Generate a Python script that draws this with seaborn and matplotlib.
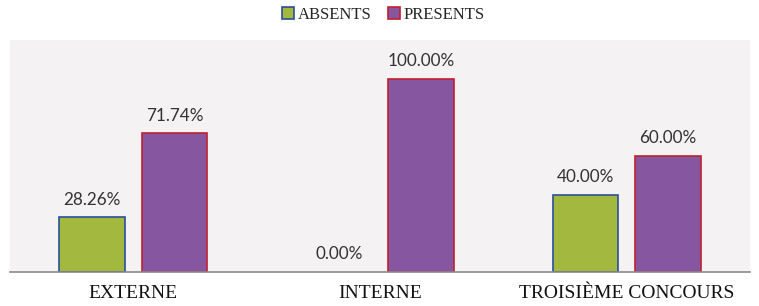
import pandas as pd
import matplotlib
matplotlib.use("Agg")
import matplotlib.pyplot as plt
import seaborn as sns
from matplotlib.patches import Patch

categories = ["EXTERNE", "INTERNE", "TROISIÈME CONCOURS"]
series = ["ABSENTS", "PRESENTS"]
absents = [28.26, 0.00, 40.00]
presents = [71.74, 100.00, 60.00]

df = pd.DataFrame({
    "cat": categories * 2,
    "serie": [series[0]] * 3 + [series[1]] * 3,
    "val": absents + presents,
})

fills = {"ABSENTS": "#a3b83f", "PRESENTS": "#8656a0"}
edges = {"ABSENTS": "#2b4f9a", "PRESENTS": "#c0202e"}

sns.set_style("white")
fig = plt.figure(figsize=(7.59, 3.06), dpi=100)
ax = fig.add_axes([10 / 759, 1 - 272 / 306, 740 / 759, 232 / 306])
ax.set_facecolor("#f4f2f3")

sns.barplot(data=df, x="cat", y="val", hue="serie", order=categories,
            hue_order=series, palette=fills, width=0.667, gap=0.2,
            legend=False, ax=ax, saturation=1)

for cont, s in zip(ax.containers, series):
    for bar, v in zip(cont, cont.datavalues):
        bar.set_edgecolor(edges[s])
        bar.set_linewidth(1.2 if v > 0 else 0)
    labels = [f"{v:.2f}%" for v in cont.datavalues]
    ax.bar_label(cont, labels=labels, padding=7, fontsize=12.3,
                 family="Lato", color="#333333")

ax.set_xlim(-0.5, 2.5)
ax.set_ylim(0, 120)
ax.set_xlabel("")
ax.set_ylabel("")
ax.set_yticks([])
ax.tick_params(axis="x", length=0, pad=9)
for t in ax.get_xticklabels():
    t.set_family("Liberation Serif")
    t.set_fontsize(14)
    t.set_color("#111111")
for side in ["top", "left", "right"]:
    ax.spines[side].set_visible(False)
ax.spines["bottom"].set_color("#8a8a8a")
ax.spines["bottom"].set_linewidth(1.2)

handles = [Patch(facecolor=fills[s], edgecolor=edges[s], linewidth=1.2, label=s)
           for s in series]
fig.legend(handles=handles, loc="center", bbox_to_anchor=(0.505, 1 - 15 / 306),
           ncol=2, frameon=False, handlelength=0.75, handleheight=0.75,
           handletextpad=0.2, columnspacing=1.0,
           prop={"family": "Liberation Serif", "size": 12})

fig.savefig("out.png", dpi=100, facecolor="white")
